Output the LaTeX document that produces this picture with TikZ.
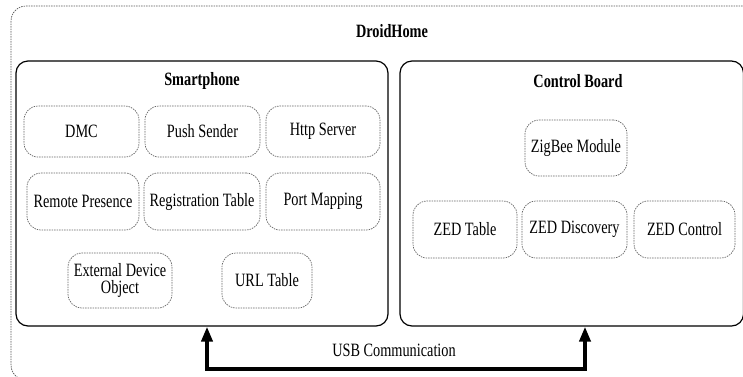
\documentclass[tikz,border=0pt]{standalone}
\usepackage{fontspec}
\setmainfont[FakeStretch=0.76]{Liberation Serif}
\usetikzlibrary{arrows.meta}

\begin{document}
\begin{tikzpicture}[x=1pt,y=-1pt,
        panel/.style={draw,line width=1.2pt,rounded corners=12pt,inner sep=0pt},
        unit/.style={draw=black!60,dash pattern=on 1.5pt off 1pt,line width=0.7pt,rounded corners=14pt,inner sep=0pt,align=center,font=\fontsize{18.8}{19}\selectfont},
        title/.style={font=\fontsize{18.8}{19}\selectfont\bfseries},
        usb/.style={line width=4pt,{Triangle[width=11pt,length=15pt]}-{Triangle[width=11pt,length=15pt]}}]
        \useasboundingbox (0,0) rectangle (743,376);
        \clip (0,0) rectangle (743,376);

        \draw[black!65,dash pattern=on 1.5pt off 1pt,line width=0.7pt,rounded corners=15pt] (11,6) rectangle (760,380);
        \node[title] (droid) at (392,31) {DroidHome};

        % smartphone side
        \node[panel,minimum width=372pt,minimum height=265pt] (phone) at (202,193.5) {};
        \node[title] (phonetitle) at (202,81) {Smartphone};
        \node[unit,minimum width=115pt,minimum height=51pt] (dmc) at (81.5,131.5) {DMC};
        \node[unit,minimum width=115pt,minimum height=51pt] (push) at (202.5,131.5) {Push Sender};
        \node[unit,minimum width=114pt,minimum height=51pt] (http) at (323,131.5) {Http Server};
        \node[unit,minimum width=112pt,minimum height=57pt] (remote) at (83,201.5) {Remote Presence};
        \node[unit,minimum width=116pt,minimum height=57pt] (regtab) at (202,201.5) {Registration Table};
        \node[unit,minimum width=114pt,minimum height=57pt] (portmap) at (323,201.5) {Port Mapping};
        \node[unit,minimum width=104pt,minimum height=55pt] (extdev) at (120,280.5) {External Device\\[-2pt]Object};
        \node[unit,minimum width=90pt,minimum height=55pt] (urltab) at (267,280.5) {URL Table};

        % control board side
        \node[panel,minimum width=343.5pt,minimum height=265pt] (board) at (571.75,193.5) {};
        \node[title] (boardtitle) at (578,81) {Control Board};
        \node[unit,minimum width=102pt,minimum height=56pt] (zigbee) at (576,148) {ZigBee Module};
        \node[unit,minimum width=104pt,minimum height=57pt] (zedtab) at (465,229.5) {ZED Table};
        \node[unit,minimum width=105pt,minimum height=57pt] (zeddisc) at (574.5,229.5) {ZED Discovery};
        \node[unit,minimum width=101pt,minimum height=57pt] (zedctrl) at (684.5,229.5) {ZED Control};

        % usb link
        \draw[usb] ([xshift=5pt]phone.south) -- ++(0,42) -| ([xshift=13.25pt]board.south);
        \node[font=\fontsize{18.8}{19}\selectfont] (usblabel) at (394,350) {USB Communication};
    \end{tikzpicture}
\end{document}
